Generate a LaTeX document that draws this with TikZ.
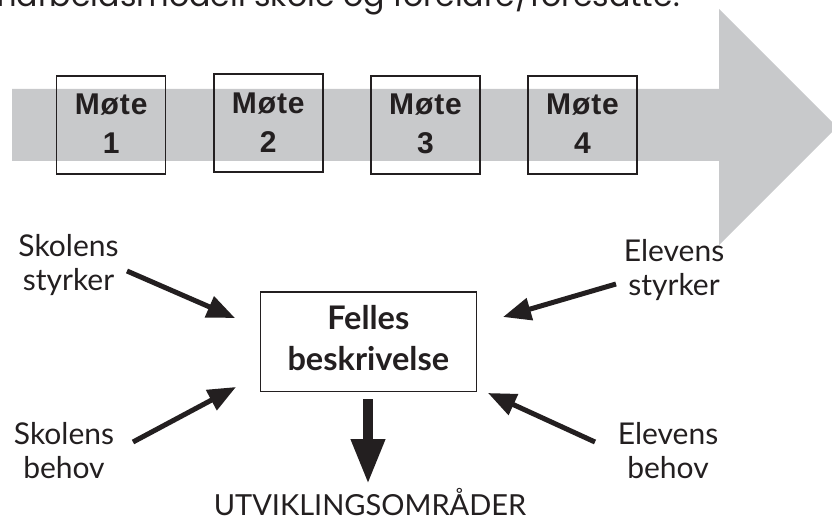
\documentclass[tikz,border=0pt]{standalone}
\usepackage{fontspec}
\setmainfont{Lato}
\newfontfamily\titlefont{Poppins}
\newfontfamily\boxfont[LetterSpace=3]{Liberation Sans}
\usetikzlibrary{arrows.meta}
\definecolor{arrowgray}{HTML}{C8C9CB}
\definecolor{ink}{HTML}{231F20}
\tikzset{
  motebox/.style={draw=ink, line width=1.4pt, minimum width=109pt, minimum height=98pt, inner sep=0pt},
  motetext/.style={anchor=base, align=center, font=\boxfont\bfseries\fontsize{30}{39}\selectfont, text=ink, inner sep=0pt},
  label/.style={anchor=base, align=center, font=\fontsize{30}{34}\selectfont, text=ink, inner sep=0pt},
  centerbox/.style={draw=ink, line width=1.4pt, minimum width=216pt, minimum height=99pt, inner sep=0pt},
  centertext/.style={anchor=base, align=center, font=\bfseries\fontsize{32.5}{41}\selectfont, text=ink, inner sep=0pt},
  inarrow/.style={draw=ink, line width=5pt, -{Triangle[length=28pt,width=22pt]}},
  downarrow/.style={draw=ink, line width=10pt, -{Triangle[length=45pt,width=32pt]}},
}
\begin{document}
\begin{tikzpicture}[x=1pt,y=-1pt]
\useasboundingbox (0,0) rectangle (832,518);
\clip (0,0) rectangle (832,518);
\fill[white] (0,0) rectangle (832,518);
% big grey arrow
\fill[arrowgray] (12,89) -- (719,89) -- (719,9) -- (837,127) -- (719,245) -- (719,161) -- (12,161) -- cycle;
% title (cropped at the top edge, as in the reference)
\node[anchor=base east, font=\titlefont\fontsize{31.6}{36}\selectfont, text=ink, inner sep=0pt] (title) at (680,7) {Samarbeidsmodell skole og foreldre/foresatte:};
% meeting boxes
\node[motebox] (m1) at (111.2,125) {};
\node[motebox] (m2) at (268.3,123) {};
\node[motebox] (m3) at (425.5,125) {};
\node[motebox] (m4) at (582.5,125) {};
% (anchor base = baseline of the last line)
\node[motetext] (t1) at (111.2,154) {Møte\\1};
\node[motetext] (t2) at (268.3,152.5) {Møte\\2};
\node[motetext] (t3) at (425.5,154) {Møte\\3};
\node[motetext] (t4) at (582.5,154) {Møte\\4};
% central box
\node[centerbox] (felles) at (368.3,341.7) {};
\node[centertext] (ftext) at (368.3,370.5) {Felles\\beskrivelse};
% labels
\node[label] (skst) at (68.5,291) {Skolens\\styrker};
\node[label] (elst) at (674,296) {Elevens\\styrker};
\node[label] (skbe) at (64,478) {Skolens\\behov};
\node[label] (elbe) at (668,478) {Elevens\\behov};
\node[anchor=base, font=\fontsize{29}{32}\selectfont, text=ink, inner sep=0pt] (utv) at (370,515) {UTVIKLINGSOMRÅDER};
% arrow ends
\coordinate (a1s) at (127,271);
\coordinate (a1e) at (235,318);
\coordinate (a2s) at (616,284);
\coordinate (a2e) at (503,317);
\coordinate (a3s) at (133,442);
\coordinate (a3e) at (236,387);
\coordinate (a4s) at (595,442);
\coordinate (a4e) at (488,393);
\coordinate (a5s) at (368,399);
\coordinate (a5e) at (368,484);
\draw[inarrow] (a1s) -- (a1e);
\draw[inarrow] (a2s) -- (a2e);
\draw[inarrow] (a3s) -- (a3e);
\draw[inarrow] (a4s) -- (a4e);
\draw[downarrow] (a5s) -- (a5e);
\end{tikzpicture}
\end{document}
